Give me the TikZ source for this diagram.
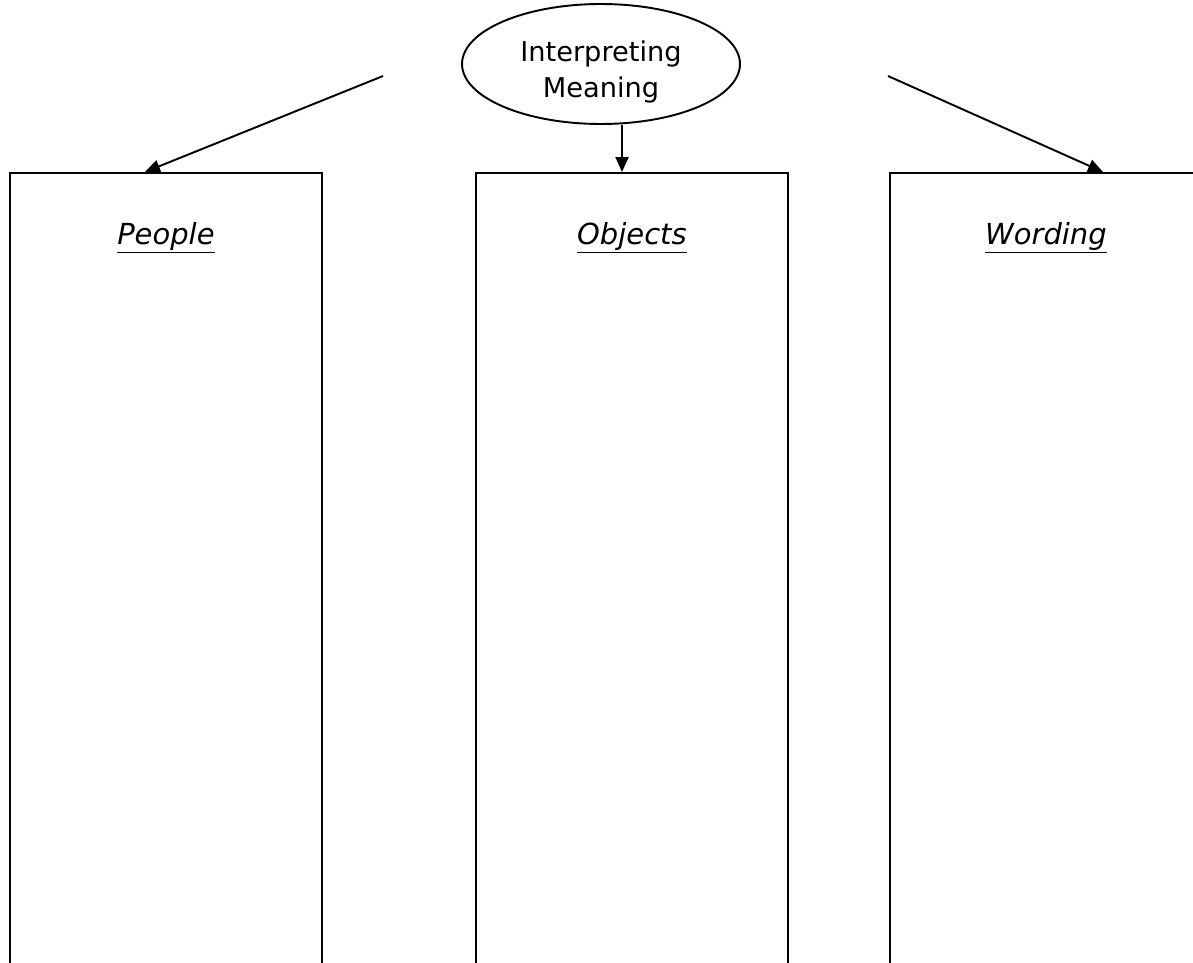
\documentclass[tikz,border=0pt]{standalone}
\usepackage{fontspec}
\setmainfont{DejaVu Sans}
\usetikzlibrary{calc,arrows.meta,shapes.geometric}

\tikzset{
  column/.style={draw, rectangle, anchor=north west, minimum width=6.24cm, minimum height=17cm, inner sep=0pt},
  heading/.style={anchor=base, font=\fontsize{16.5}{19}\selectfont\itshape},
  link/.style={-{Triangle[length=0.3cm, width=0.26cm]}}
}

\begin{document}
\begin{tikzpicture}[x=0.02cm, y=-0.02cm, line width=1.1pt]
  \useasboundingbox (0,0) rectangle (1193,963);
  \clip (0,0) rectangle (1193,963);
  % top bubble
  \node[draw, ellipse, minimum width=5.56cm, minimum height=2.4cm, inner sep=0pt] (meaning) at (601,64) {};
  \node[align=center, font=\fontsize{15.5}{21}\selectfont] (meaningtext) at (601,72) {Interpreting\\Meaning};
  % the three columns
  \node[column] (people) at (9,172) {};
  \node[column] (objects) at (475,172) {};
  \node[column] (wording) at (889,172) {};
  \node[heading] (peoplehead) at ($(people.north)+(0,72)$) {\underline{People}};
  \node[heading] (objectshead) at ($(objects.north)+(0,72)$) {\underline{Objects}};
  \node[heading] (wordinghead) at ($(wording.north)+(0,72)$) {\underline{Wording}};
  % arrows
  \coordinate (leftstart) at (383,76);
  \coordinate (lefttip) at (145,0);
  \coordinate (midtip) at (622,0);
  \coordinate (rightstart) at (888,76);
  \coordinate (righttip) at (1103,0);
  \draw[link] (leftstart) -- (people.north -| lefttip);
  \draw[link] (meaning.south -| midtip) -- (objects.north -| midtip);
  \draw[link] (rightstart) -- (wording.north -| righttip);
\end{tikzpicture}
\end{document}
